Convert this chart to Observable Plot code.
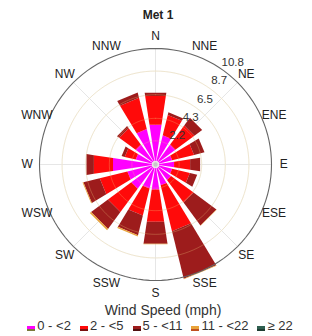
<!DOCTYPE html>
<html>
<head>
<meta charset="utf-8">
<script src="https://cdn.jsdelivr.net/npm/d3@7"></script>
<script src="https://cdn.jsdelivr.net/npm/@observablehq/plot@0.6"></script>
<style>
  html, body { margin: 0; padding: 0; background: #fff; }
  body { width: 312px; height: 336px; overflow: hidden; font-family: "Liberation Sans", Arial, sans-serif; color: #222; }
  #title { height: 18px; padding-top: 6px; line-height: 18px; text-align: center; font-weight: bold; font-size: 12px; padding-left: 4px; }
  #chart svg { display: block; }
  #legtitle { margin-top: -2px; line-height: 16px; text-align: center; font-size: 14px; padding-left: 14px; color: #333; }
  #legend { display: flex; justify-content: center; gap: 9px; line-height: 16px; font-size: 13px; color: #333; padding-left: 8px; }
  .item { display: flex; align-items: center; gap: 2px; }
  .sw { width: 8px; height: 3px; border-bottom: 2px solid; display: inline-block; margin-top: 5px; }
</style>
</head>
<body>
<div id="title">Met 1</div>
<div id="chart"></div>
<div id="legtitle">Wind Speed (mph)</div>
<div id="legend"></div>
<script>
const directions = ["N","NNE","NE","ENE","E","ESE","SE","SSE","S","SSW","SW","WSW","W","WNW","NW","NNW"];
const bins = ["0 - <2", "2 - <5", "5 - <11", "11 - <22", "≥ 22"];
const binColors = ["#ff00ff", "#ff0a0a", "#9d1c1c", "#e9a33a", "#2f5f4f"];
const binEdge = ["#7a7a3a", "#7a1010", "#501010", "#c05020", "#1e3e33"];

// frequency (%) per direction for each speed bin
const speed0to2   = [3.75, 2.8, 2.3, 1.6, 1.75, 1.6, 1.8, 2.0, 2.35, 2.3, 2.8, 2.7, 4.0, 1.9, 2.3, 3.4];
const speed2to5   = [2.69, 1.95, 2.2, 2.1, 1.51, 1.7, 2.6, 4.4, 3.05, 2.6, 2.7, 2.65, 1.8, 1.05, 1.9, 3.0];
const speed5to11  = [0.31, 0.25, 0.9, 1.0, 0.94, 0.7, 2.65, 4.55, 2.07, 1.88, 1.95, 1.57, 0.7, 0.3, 0.25, 0.5];
const speed11to22 = [0, 0, 0, 0, 0, 0, 0.03, 0.05, 0.03, 0.12, 0.15, 0.08, 0, 0, 0, 0];
const speed22up   = [0, 0, 0, 0, 0, 0, 0, 0, 0, 0, 0, 0, 0, 0, 0, 0];
const ringTicks = [2.2, 4.3, 6.5, 8.7, 10.8];
const rMax = 10.8;

const series = [speed0to2, speed2to5, speed5to11, speed11to22, speed22up];
const step = 360 / directions.length;
const halfWidth = 8.6;
const rad = d => d * Math.PI / 180;
const px = (r, a) => r * Math.sin(rad(a));
const py = (r, a) => r * Math.cos(rad(a));

// wedge polygons built from the stacked values
const wedges = [];
directions.forEach((dir, i) => {
  const a = i * step;
  let r0 = 0;
  series.forEach((vals, b) => {
    const r1 = r0 + vals[i];
    if (vals[i] > 0) {
      const id = dir + "-" + b;
      [[r0, a - halfWidth], [r1, a - halfWidth], [r1, a + halfWidth], [r0, a + halfWidth]].forEach(([r, t]) => {
        wedges.push({id, bin: bins[b], x: px(r, t), y: py(r, t)});
      });
    }
    r0 = r1;
  });
});

const circlePts = [];
ringTicks.forEach(t => {
  for (let k = 0; k <= 120; k++) {
    const a = k * 3;
    circlePts.push({tick: t, x: px(t, a), y: py(t, a)});
  }
});
const spokes = d3.range(0, 360, 45).map(a => ({x1: 0, y1: 0, x2: px(rMax, a), y2: py(rMax, a)}));
const dirLabels = directions.map((d, i) => ({label: d, x: px(11.95, i * step), y: py(11.95, i * step)}));
const tickLabels = ringTicks.map(t => ({label: String(t), x: px(t + 1.15, 37), y: py(t + 1.15, 37)}));

const chart = Plot.plot({
  width: 312,
  height: 280,
  style: {fontFamily: "'Liberation Sans', Arial, sans-serif", background: "transparent", overflow: "visible"},
  x: {domain: [-rMax, rMax], range: [39, 271], axis: null},
  y: {domain: [-rMax, rMax], range: [256, 24], axis: null},
  color: {domain: bins, range: binColors},
  marks: [
    Plot.link(spokes, {x1: "x1", y1: "y1", x2: "x2", y2: "y2", stroke: "#e6e6e6", strokeWidth: 1}),
    Plot.line(circlePts.filter(d => d.tick < rMax), {x: "x", y: "y", z: "tick", stroke: "#efefef", strokeWidth: 1}),
    Plot.line(wedges, {x: "x", y: "y", z: "id", fill: "bin", stroke: "none", curve: "linear-closed"}),
    Plot.line(circlePts.filter(d => d.tick < rMax), {x: "x", y: "y", z: "tick", stroke: "#f0d080", strokeOpacity: 0.35, strokeWidth: 0.8}),
    Plot.line(circlePts.filter(d => d.tick === rMax), {x: "x", y: "y", stroke: "#666", strokeWidth: 1.1}),
    Plot.dot([{x: 0, y: 0}], {x: "x", y: "y", r: 3, fill: "#c8c8c8", stroke: "#e8e8e8"}),
    Plot.text(tickLabels, {x: "x", y: "y", text: "label", fontSize: 11.5, fill: "#333"}),
    Plot.text(dirLabels, {x: "x", y: "y", text: "label", fontSize: 12, fill: "#222"})
  ]
});
document.getElementById("chart").appendChild(chart);

const legend = document.getElementById("legend");
bins.forEach((b, i) => {
  const item = document.createElement("span");
  item.className = "item";
  const sw = document.createElement("span");
  sw.className = "sw";
  sw.style.background = binColors[i];
  sw.style.borderBottomColor = binEdge[i];
  const txt = document.createElement("span");
  txt.textContent = b;
  item.appendChild(sw);
  item.appendChild(txt);
  legend.appendChild(item);
});
</script>
</body>
</html>
